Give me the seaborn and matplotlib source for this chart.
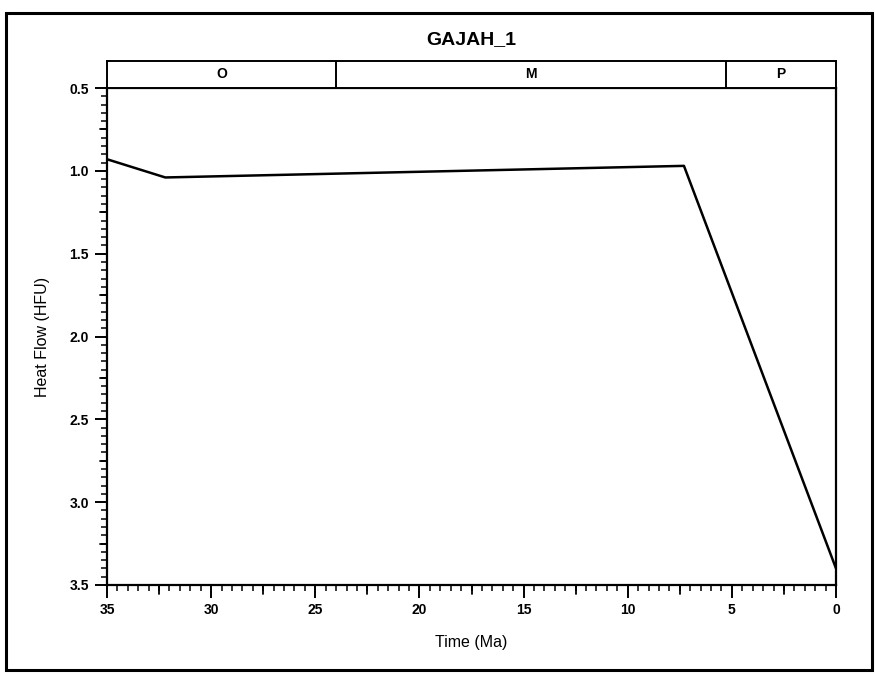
import matplotlib
matplotlib.use("Agg")
import matplotlib.pyplot as plt
from matplotlib.patches import Rectangle
from matplotlib.ticker import MultipleLocator, FormatStrFormatter
import numpy as np
import pandas as pd
import seaborn as sns

# Heat-flow history for the well
time_ma = [35.0, 32.2, 7.3, 0.0]
heat_flow = [0.93, 1.04, 0.97, 3.40]

# Epoch band along the top of the plot
epoch_names = ["O", "M", "P"]
epoch_bounds = [35.0, 24.0, 5.3, 0.0]

title = "GAJAH_1"
x_label = "Time (Ma)"
y_label = "Heat Flow (HFU)"

sns.set_style("white")
plt.rcParams["font.family"] = ["Liberation Sans", "DejaVu Sans"]
plt.rcParams["text.color"] = "black"
plt.rcParams["axes.labelcolor"] = "black"
plt.rcParams["xtick.color"] = "black"
plt.rcParams["ytick.color"] = "black"

W, H = 875, 676
fig = plt.figure(figsize=(W / 100, H / 100), dpi=100)

ax_left, ax_right = 107 / W, 836 / W
ax_bottom, ax_top = 1 - 585 / H, 1 - 88 / H
band_top = 1 - 61 / H

ax = fig.add_axes([ax_left, ax_bottom, ax_right - ax_left, ax_top - ax_bottom])
band = fig.add_axes([ax_left, ax_top, ax_right - ax_left, band_top - ax_top])

df = pd.DataFrame({"time": time_ma, "heat_flow": heat_flow})
sns.lineplot(data=df, x="time", y="heat_flow", ax=ax, color="black",
             linewidth=1.8, sort=False)

ax.set_xlim(35, 0)
ax.set_ylim(3.5, 0.5)

for side in ["left", "bottom", "right", "top"]:
    ax.spines[side].set_visible(True)
    ax.spines[side].set_color("black")
    ax.spines[side].set_linewidth(1.6)

ax.xaxis.set_major_locator(MultipleLocator(5))
ax.xaxis.set_minor_locator(MultipleLocator(0.5))
ax.yaxis.set_major_locator(MultipleLocator(0.5))
ax.yaxis.set_minor_locator(MultipleLocator(0.05))
ax.yaxis.set_major_formatter(FormatStrFormatter("%.1f"))

ax.tick_params(axis="both", which="major", direction="out", length=9,
               width=1.4, color="black", labelsize=10, pad=4,
               bottom=True, left=True, top=False, right=False)
ax.tick_params(axis="both", which="minor", direction="out", length=4,
               width=1.1, color="black", bottom=True, left=True,
               top=False, right=False)
for lbl in ax.get_xticklabels() + ax.get_yticklabels():
    lbl.set_fontweight("bold")

# Medium ticks at the half-way marks between labelled ticks
for xv in np.arange(32.5, 0, -5):
    ax.plot([xv, xv], [0, -0.018], transform=ax.get_xaxis_transform(),
            color="black", lw=1.3, clip_on=False)
for yv in np.arange(0.75, 3.5, 0.5):
    ax.plot([0, -0.009], [yv, yv], transform=ax.get_yaxis_transform(),
            color="black", lw=1.3, clip_on=False)

ax.set_xlabel(x_label, fontsize=11.5, labelpad=13)
ax.set_ylabel(y_label, fontsize=11.5, labelpad=14)

# Epoch band
band.set_xlim(35, 0)
band.set_ylim(0, 1)
band.set_xticks([])
band.set_yticks([])
for side in ["left", "bottom", "right", "top"]:
    band.spines[side].set_visible(True)
    band.spines[side].set_color("black")
    band.spines[side].set_linewidth(1.4)
band.vlines(epoch_bounds[1:-1], 0, 1, color="black", lw=1.4)
for name, a, b in zip(epoch_names, epoch_bounds[:-1], epoch_bounds[1:]):
    band.text((a + b) / 2, 0.5, name, ha="center", va="center",
              fontsize=10, fontweight="bold")

fig.text((ax_left + ax_right) / 2, 1 - 40 / H, title, ha="center",
         va="center", fontsize=14, fontweight="bold")

# Outer frame around the whole figure
fig.patches.append(Rectangle((6 / W, 1 - 670 / H), 866 / W, 657 / H,
                             transform=fig.transFigure, fill=False,
                             edgecolor="black", linewidth=2.2))

fig.savefig("out.png", dpi=100, facecolor="white")
